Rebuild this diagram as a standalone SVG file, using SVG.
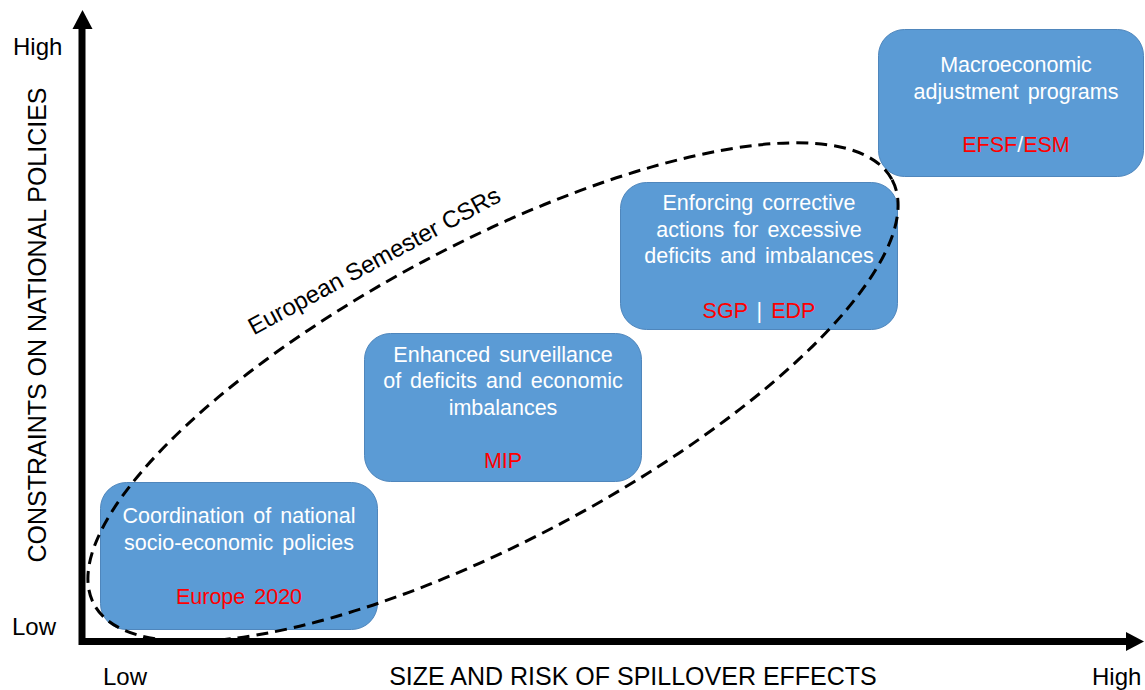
<svg xmlns="http://www.w3.org/2000/svg" width="1145" height="690" viewBox="0 0 1145 690">
<style>
.box{fill:#5B9BD5;stroke:#4F86BC;stroke-width:1}
.bt{font-family:"Liberation Sans",Arial,sans-serif;font-size:21.5px;fill:#FFFFFF;text-anchor:middle;word-spacing:3px}
.red{fill:#FF0000}
.ax{font-family:"Liberation Sans",Arial,sans-serif;font-size:24px;fill:#000000}
.at{font-family:"Liberation Sans",Arial,sans-serif;font-size:25px;fill:#000000;text-anchor:middle}
.ell{fill:none;stroke:#000000;stroke-width:3;stroke-dasharray:12 7}
</style>
<rect width="1145" height="690" fill="#FFFFFF"/>
<g id="axes">
<path d="M82,27 V641.5 H1128" fill="none" stroke="#000000" stroke-width="7" stroke-linejoin="miter"/>
<polygon points="82.5,10 72.5,29 92.5,29" fill="#000000"/>
<polygon points="1144,641.5 1126,632 1126,651" fill="#000000"/>
<text class="ax" x="13" y="55">High</text>
<text class="ax" x="12" y="635">Low</text>
<text class="ax" x="103" y="685">Low</text>
<text class="ax" x="1092" y="685">High</text>
<text class="at" x="633" y="685">SIZE AND RISK OF SPILLOVER EFFECTS</text>
<text class="at" transform="translate(46,325) rotate(-90)" x="0" y="0">CONSTRAINTS ON NATIONAL POLICIES</text>
</g>
<g id="node-coordination">
<rect class="box" x="100.5" y="482.5" width="277" height="147" rx="26"/>
<text class="bt" x="239" y="523">Coordination of national</text>
<text class="bt" x="239" y="550">socio-economic policies</text>
<text class="bt red" x="239" y="604">Europe 2020</text>
</g>
<g id="node-surveillance">
<rect class="box" x="364.5" y="333.5" width="277" height="148" rx="26"/>
<text class="bt" x="503" y="362">Enhanced surveillance</text>
<text class="bt" x="503" y="388">of deficits and economic</text>
<text class="bt" x="503" y="415">imbalances</text>
<text class="bt red" x="503" y="468">MIP</text>
</g>
<g id="node-enforcing">
<rect class="box" x="620.5" y="182.5" width="277" height="147" rx="26"/>
<text class="bt" x="759" y="210">Enforcing corrective</text>
<text class="bt" x="759" y="237">actions for excessive</text>
<text class="bt" x="759" y="263">deficits and imbalances</text>
<text class="bt" x="759" y="318"><tspan class="red">SGP</tspan> | <tspan class="red">EDP</tspan></text>
</g>
<g id="node-macro">
<rect class="box" x="878.5" y="29.5" width="265" height="147" rx="26"/>
<text class="bt" x="1016" y="72">Macroeconomic</text>
<text class="bt" x="1016" y="99">adjustment programs</text>
<text class="bt" x="1016" y="152"><tspan class="red">EFSF</tspan>/<tspan class="red">ESM</tspan></text>
</g>
<g id="connectors">
<ellipse class="ell" cx="493" cy="392" rx="452" ry="148" transform="rotate(-28 493 392)"/>
<text class="ax" text-anchor="middle" transform="translate(378,268) rotate(-28.5)">European Semester CSRs</text>
</g>
</svg>
